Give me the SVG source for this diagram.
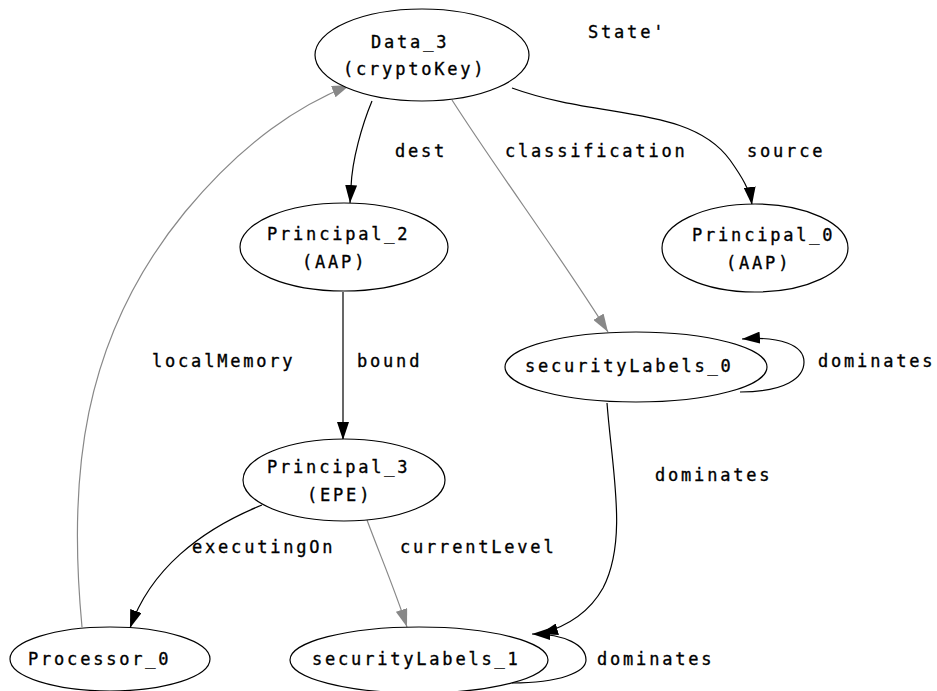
<svg xmlns="http://www.w3.org/2000/svg" width="937" height="691" viewBox="0 0 937 691">
<style>
text{font-family:"DejaVu Sans Mono","Liberation Mono",monospace;font-size:17px;letter-spacing:2.8px;fill:#000;stroke:#000;stroke-width:0.35}
ellipse{fill:#fff;stroke:#000;stroke-width:1.2}
.e{fill:none;stroke:#000;stroke-width:1.2}
.g{fill:none;stroke:#888;stroke-width:1.2}
.eb{marker-end:url(#ab)}
.eg{marker-end:url(#ag)}
</style>
<defs>
<marker id="ab" viewBox="0 0 18 12" refX="18" refY="6" markerWidth="18" markerHeight="12" markerUnits="userSpaceOnUse" orient="auto"><path d="M0,0 L18,6 L0,12 Z" fill="#000"/></marker>
<marker id="ag" viewBox="0 0 18 12" refX="18" refY="6" markerWidth="18" markerHeight="12" markerUnits="userSpaceOnUse" orient="auto"><path d="M0,0 L18,6 L0,12 Z" fill="#888"/></marker>
</defs>
<rect width="937" height="691" fill="#fff"/>
<g id="connectors">
<path class="e eb" d="M372,101 C362,125 352,160 351,187 L350,203"/>
<text x="395" y="157">dest</text>
<path class="g eg" d="M452,100 C500,175 560,255 608,332"/>
<text x="505" y="157">classification</text>
<path class="e eb" d="M512,88 C600,120 690,105 730,160 C742,177 750,190 752,205"/>
<text x="747" y="157">source</text>
<path class="e eb" d="M343,292 L343,440"/>
<text x="357" y="367">bound</text>
<path class="g eg" d="M82,627 C68,480 80,340 185,212 C245,140 300,105 350,85"/>
<text x="152" y="367">localMemory</text>
<path class="e eb" d="M740,392 C785,392 804,378 804,362 C804,345 780,336 742,339"/>
<text x="818" y="367">dominates</text>
<path class="e eb" d="M607,403 C612,470 628,540 603,588 C588,615 562,628 540,634"/>
<text x="655" y="481">dominates</text>
<path class="e eb" d="M262,505 C200,530 150,570 130,628"/>
<text x="192" y="553">executingOn</text>
<path class="g eg" d="M367,520 C380,555 395,590 407,627"/>
<text x="400" y="553">currentLevel</text>
<path class="e eb" d="M512,683 C560,683 586,672 586,660 C586,645 565,634 532,634"/>
<text x="597" y="665">dominates</text>
</g>
<g id="data3"><ellipse cx="422" cy="55" rx="107" ry="46"/><text x="371" y="48">Data_3</text><text x="343" y="75">(cryptoKey)</text></g>
<g id="state"><text x="588" y="38">State'</text></g>
<g id="principal2"><ellipse cx="344" cy="247" rx="104" ry="44"/><text x="267" y="240">Principal_2</text><text x="302" y="268">(AAP)</text></g>
<g id="principal0"><ellipse cx="755" cy="248" rx="93" ry="44"/><text x="692" y="241">Principal_0</text><text x="726" y="269">(AAP)</text></g>
<g id="securityLabels0"><ellipse cx="636" cy="367" rx="131" ry="35"/><text x="525" y="372">securityLabels_0</text></g>
<g id="principal3"><ellipse cx="344" cy="480" rx="101" ry="41"/><text x="267" y="473">Principal_3</text><text x="307" y="501">(EPE)</text></g>
<g id="processor0"><ellipse cx="110" cy="659" rx="100" ry="32"/><text x="28" y="665">Processor_0</text></g>
<g id="securityLabels1"><ellipse cx="419" cy="660" rx="129" ry="33"/><text x="312" y="665">securityLabels_1</text></g>
</svg>
